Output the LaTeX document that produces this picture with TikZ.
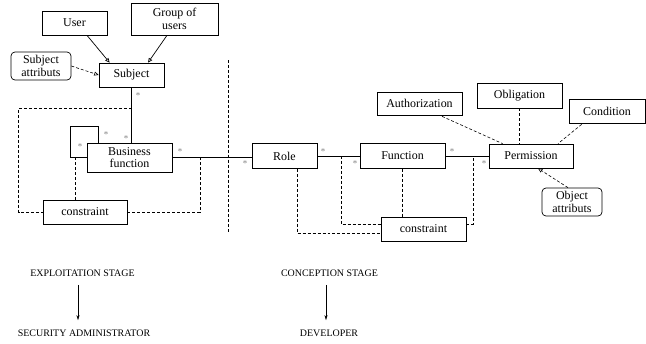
\documentclass[tikz,border=0pt]{standalone}
\usepackage{fontspec}
\setmainfont{Liberation Serif}
\usetikzlibrary{arrows.meta,calc}

\begin{document}
\begin{tikzpicture}[x=1bp,y=-1bp,
box/.style={draw,line width=0.7pt,inner sep=0pt,align=center,font=\fontsize{12}{12.5}\selectfont},
attr/.style={box,rounded corners=4pt},
link/.style={line width=0.7pt},
dep/.style={line width=0.6pt,dash pattern=on 3pt off 2pt},
gen/.style={-{Triangle[open,length=4.5pt,width=4pt]}},
mult/.style={font=\small,text=gray,inner sep=0pt}]
\useasboundingbox (0,0) rectangle (646,343);
\node[box,minimum width=65bp,minimum height=24bp](user)at(74.5,23){User};
\node[box,minimum width=87bp,minimum height=32bp](group)at(174.5,19){Group of\\users};
\node[attr,minimum width=60bp,minimum height=28bp](subjattr)at(41,66){Subject\\attributs};
\node[box,minimum width=65bp,minimum height=24bp](subject)at(131.5,75){Subject};
\node[box,minimum width=85bp,minimum height=29bp](bf)at(129.5,157.5){Business\\function};
\node[box,minimum width=84bp,minimum height=24bp](cons1)at(85,212){constraint};
\node[box,minimum width=65bp,minimum height=25bp](role)at(284.5,156){Role};
\node[box,minimum width=85bp,minimum height=25bp](func)at(402.5,156){Function};
\node[box,minimum width=85bp,minimum height=24bp](cons2)at(423.5,229){constraint};
\node[box,minimum width=84bp,minimum height=24bp](perm)at(531,156){Permission};
\node[box,minimum width=85bp,minimum height=23bp](auth)at(419.5,103.5){Authorization};
\node[box,minimum width=85bp,minimum height=25bp](oblig)at(519.5,95.5){Obligation};
\node[box,minimum width=76bp,minimum height=24bp](cond)at(607,111){Condition};
\node[attr,minimum width=60bp,minimum height=28bp](objattr)at(572,202){Object\\attributs};
\draw[link,gen]($(user.south)+(12.5,0)$)--($(subject.north west)+(11,0)$);
\draw[link,gen]($(group.south)+(-7.5,0)$)--($(subject.north)+(16.5,0)$);
\draw[dep,gen](subjattr.east)--(subject.west);
\draw[link](subject.south)--(subject.south|-bf.north);
\draw[link]($(bf.north west)+(12,0)$)--++(0,-16)--++(-28,0)|-(bf.west);
\draw[dep]($(cons1.north)+(-10,0)$)--++(0,-43);
\draw[dep]($(subject.south)+(0,21)$)--++(-113,0)|-(cons1.west);
\draw[link](bf.east)--(bf.east-|role.west);
\coordinate(bfjoin)at(200,157.5);
\draw[dep](cons1.east)-|(bfjoin);
\draw[dep](228,60)--(228,232);
\draw[link](role.east)--(func.west);
\coordinate(rfjoin)at(341,156);
\draw[dep]($(role.south)+(12.5,0)$)|-($(cons2.west)+(0,4)$);
\draw[dep](rfjoin)|-($(cons2.west)+(0,-5)$);
\draw[dep](func.south)--(func.south|-cons2.north);
\draw[link](func.east)--(perm.west);
\coordinate(fpjoin)at(473,156);
\draw[dep]($(cons2.east)+(0,-5)$)-|(fpjoin);
\draw[dep]($(auth.south)+(22.5,1)$)--($(perm.north west)+(14,0)$);
\draw[dep](oblig.south)--(oblig.south|-perm.north);
\draw[dep]($(cond.south west)+(13,1)$)--($(perm.north)+(27,0)$);
\draw[dep,gen]($(objattr.north)+(-4,0)$)--($(perm.south)+(7,0)$);
\foreach \p [count=\i] in {(138,96),(106,135),(126,139),(80,147),(180,152),(245,164),(323,152),(355,164),(452,152),(484,164)}
\node[mult](m\i)at\p{*};
\node(expl)at(82.5,273){EXPLOITATION STAGE};
\node(secadm)at(84,333){SECURITY ADMINISTRATOR};
\node(concep)at(329.5,273){CONCEPTION STAGE};
\node(dev)at(329,333){DEVELOPER};
\draw[-{Stealth[length=5pt,width=3pt]},shorten <=5pt,shorten >=6pt]($(expl.south)+(-4.5,0)$)--($(secadm.north)+(-6,0)$);
\draw[-{Stealth[length=5pt,width=3pt]},shorten <=5pt,shorten >=6pt]($(concep.south)+(-3.5,0)$)--($(dev.north)+(-3,0)$);
\end{tikzpicture}
\end{document}
